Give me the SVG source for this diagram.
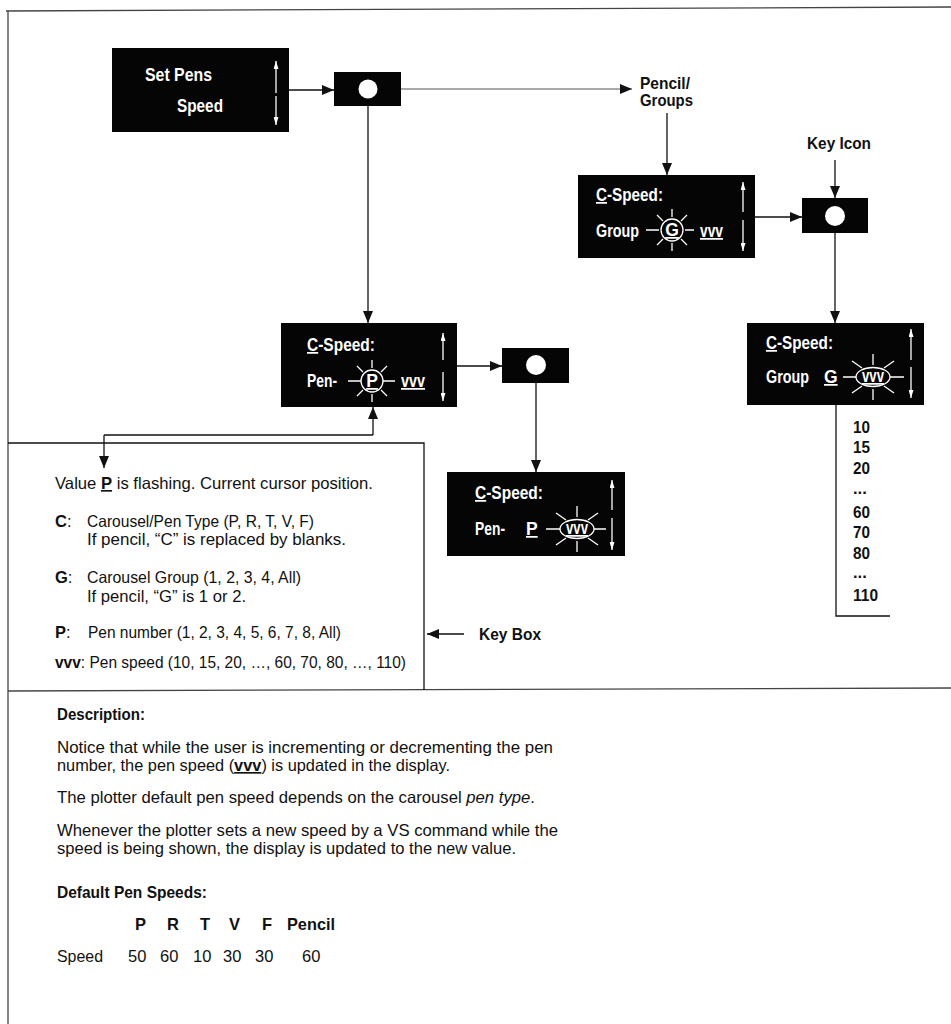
<svg xmlns="http://www.w3.org/2000/svg" width="951" height="1024" viewBox="0 0 951 1024">
<defs>
<style>
.bx{fill:#050505}
.wb{font-family:"Liberation Sans",Arial,sans-serif;font-weight:bold;font-size:17.5px;fill:#fff}
.t{font-family:"Liberation Sans",Arial,sans-serif;font-size:16.5px;fill:#111}
.b{font-weight:bold}
.i{font-style:italic}
.u{text-decoration:underline}
.ln{stroke:#111;stroke-width:1.3;fill:none}
.lt{stroke:#555;stroke-width:1;fill:none}
.fr{stroke:#444;stroke-width:1.3;fill:none}
.wl{stroke:#fff;stroke-width:1.3;fill:none}
.dot{fill:#fff}
</style>
<marker id="ah" viewBox="0 0 12 10" refX="12" refY="5" markerWidth="12" markerHeight="10" markerUnits="userSpaceOnUse" orient="auto"><path d="M0,0L12,5L0,10z" fill="#111"/></marker>
<marker id="wh" viewBox="0 0 8 5" refX="8" refY="2.5" markerWidth="8" markerHeight="5" markerUnits="userSpaceOnUse" orient="auto"><path d="M0,0L8,2.5L0,5z" fill="#fff"/></marker>
<g id="sun" class="wl">
<circle r="11"/>
<path d="M0,-13V-21M0,13V21M9,-9L15,-15M-9,-9L-15,-15M9,9L15,15M-9,9L-15,15"/>
</g>
<g id="esun" class="wl">
<ellipse rx="17" ry="9.5"/>
<path d="M0,-12V-23M0,12V23M11,-9L21,-16M-11,-9L-21,-16M11,9L21,16M-11,9L-21,16"/>
</g>
</defs>

<g id="frame" class="fr">
<path d="M6,11L951,7"/>
<path d="M8,11V1024"/>
<path d="M8,691L951,688"/>
</g>

<g id="connectors">
<path class="ln" d="M289,90H334" marker-end="url(#ah)"/>
<path class="lt" d="M401,89H632" marker-end="url(#ah)"/>
<path class="ln" d="M368,106V323" marker-end="url(#ah)"/>
<path class="ln" d="M667,113V175" marker-end="url(#ah)"/>
<path class="ln" d="M835,160V198" marker-end="url(#ah)"/>
<path class="ln" d="M755,217H802" marker-end="url(#ah)"/>
<path class="ln" d="M835,233V323" marker-end="url(#ah)"/>
<path class="ln" d="M457,366H502" marker-end="url(#ah)"/>
<path class="ln" d="M536,383V472" marker-end="url(#ah)"/>
<path class="ln" d="M104,435H373"/>
<path class="ln" d="M373,435V407" marker-end="url(#ah)"/>
<path class="ln" d="M104,435V468" marker-end="url(#ah)"/>
<path class="ln" d="M836,405V616H890"/>
<path class="ln" d="M464,634H427" marker-end="url(#ah)"/>
</g>

<g id="setpens">
<rect class="bx" x="112" y="48" width="177" height="84"/>
<text class="wb" x="145" y="81" textLength="67" lengthAdjust="spacingAndGlyphs">Set Pens</text>
<text class="wb" x="177" y="112" textLength="46" lengthAdjust="spacingAndGlyphs">Speed</text>
<path class="wl" d="M276,93V61" marker-end="url(#wh)"/>
<path class="wl" d="M276,96V125" marker-end="url(#wh)"/>
</g>

<g id="key1">
<rect class="bx" x="334" y="72" width="67" height="34"/>
<circle class="dot" cx="368" cy="89" r="9.5"/>
</g>

<g id="pencil-groups">
<text class="t b" x="640" y="89" textLength="50" lengthAdjust="spacingAndGlyphs">Pencil/</text>
<text class="t b" x="640" y="106" textLength="53" lengthAdjust="spacingAndGlyphs">Groups</text>
</g>

<g id="keyicon-label">
<text class="t b" x="807" y="149" textLength="64" lengthAdjust="spacingAndGlyphs">Key Icon</text>
</g>

<g id="group-box">
<rect class="bx" x="578" y="175" width="177" height="83"/>
<text class="wb" x="596" y="201" textLength="67" lengthAdjust="spacingAndGlyphs"><tspan class="u">C</tspan>-Speed:</text>
<text class="wb" x="596" y="237" textLength="43" lengthAdjust="spacingAndGlyphs">Group</text>
<path class="wl" d="M646,230H659M685,230H694"/>
<use href="#sun" x="672" y="230"/>
<text class="wb u" x="672" y="236" text-anchor="middle">G</text>
<text class="wb u" x="700" y="237" textLength="23" lengthAdjust="spacingAndGlyphs">vvv</text>
<path class="wl" d="M743,212V182" marker-end="url(#wh)"/>
<path class="wl" d="M743,220V251" marker-end="url(#wh)"/>
</g>

<g id="key3">
<rect class="bx" x="802" y="198" width="66" height="35"/>
<circle class="dot" cx="835" cy="216" r="10"/>
</g>

<g id="group-speed-box">
<rect class="bx" x="747" y="323" width="177" height="82"/>
<text class="wb" x="766" y="349" textLength="67" lengthAdjust="spacingAndGlyphs"><tspan class="u">C</tspan>-Speed:</text>
<text class="wb" x="766" y="383" textLength="43" lengthAdjust="spacingAndGlyphs">Group</text>
<text class="wb u" x="824" y="383">G</text>
<path class="wl" d="M843,377H856M890,377H904"/>
<use href="#esun" x="873" y="377"/>
<text class="wb u" x="862" y="382" font-size="15" textLength="22" lengthAdjust="spacingAndGlyphs">vvv</text>
<path class="wl" d="M911,360V329" marker-end="url(#wh)"/>
<path class="wl" d="M911,367V398" marker-end="url(#wh)"/>
</g>

<g id="speed-list">
<text class="t b" x="853" y="433" font-size="17.5" textLength="17" lengthAdjust="spacingAndGlyphs">10</text>
<text class="t b" x="853" y="453" font-size="17.5" textLength="17" lengthAdjust="spacingAndGlyphs">15</text>
<text class="t b" x="853" y="474" font-size="17.5" textLength="17" lengthAdjust="spacingAndGlyphs">20</text>
<text class="t b" x="853" y="494">...</text>
<text class="t b" x="853" y="518" font-size="17.5" textLength="17" lengthAdjust="spacingAndGlyphs">60</text>
<text class="t b" x="853" y="538" font-size="17.5" textLength="17" lengthAdjust="spacingAndGlyphs">70</text>
<text class="t b" x="853" y="559" font-size="17.5" textLength="17" lengthAdjust="spacingAndGlyphs">80</text>
<text class="t b" x="853" y="578">...</text>
<text class="t b" x="853" y="601" font-size="17.5" textLength="25" lengthAdjust="spacingAndGlyphs">110</text>
</g>

<g id="pen-box">
<rect class="bx" x="281" y="323" width="176" height="84"/>
<text class="wb" x="307" y="351" textLength="68" lengthAdjust="spacingAndGlyphs"><tspan class="u">C</tspan>-Speed:</text>
<text class="wb" x="307" y="387" textLength="30" lengthAdjust="spacingAndGlyphs">Pen-</text>
<path class="wl" d="M348,381H361M383,381H395"/>
<use href="#sun" x="372" y="381"/>
<text class="wb u" x="372" y="387" text-anchor="middle">P</text>
<text class="wb u" x="401" y="387" textLength="24" lengthAdjust="spacingAndGlyphs">vvv</text>
<path class="wl" d="M443,360V333" marker-end="url(#wh)"/>
<path class="wl" d="M443,372V401" marker-end="url(#wh)"/>
</g>

<g id="key2">
<rect class="bx" x="502" y="348" width="67" height="35"/>
<circle class="dot" cx="536" cy="365" r="10"/>
</g>

<g id="pen-speed-box">
<rect class="bx" x="447" y="472" width="178" height="84"/>
<text class="wb" x="475" y="499" textLength="68" lengthAdjust="spacingAndGlyphs"><tspan class="u">C</tspan>-Speed:</text>
<text class="wb" x="475" y="535" textLength="30" lengthAdjust="spacingAndGlyphs">Pen-</text>
<text class="wb u" x="526" y="535">P</text>
<path class="wl" d="M546,529H560M594,529H606"/>
<use href="#esun" x="577" y="529"/>
<text class="wb u" x="566" y="534" font-size="15" textLength="22" lengthAdjust="spacingAndGlyphs">vvv</text>
<path class="wl" d="M612,510V480" marker-end="url(#wh)"/>
<path class="wl" d="M612,518V550" marker-end="url(#wh)"/>
</g>

<g id="key-box">
<path class="ln" d="M8,443H424V690"/>
<text class="t" x="55" y="489" textLength="318" lengthAdjust="spacingAndGlyphs">Value <tspan class="b u">P</tspan> is flashing. Current cursor position.</text>
<text class="t b" x="55" y="527">C<tspan font-weight="normal">:</tspan></text>
<text class="t" x="87" y="527" textLength="227" lengthAdjust="spacingAndGlyphs">Carousel/Pen Type (P, R, T, V, F)</text>
<text class="t" x="87" y="545" textLength="259" lengthAdjust="spacingAndGlyphs">If pencil, “C” is replaced by blanks.</text>
<text class="t b" x="55" y="583">G<tspan font-weight="normal">:</tspan></text>
<text class="t" x="87" y="583" textLength="214" lengthAdjust="spacingAndGlyphs">Carousel Group (1, 2, 3, 4, All)</text>
<text class="t" x="87" y="602" textLength="159" lengthAdjust="spacingAndGlyphs">If pencil, “G” is 1 or 2.</text>
<text class="t b" x="55" y="638">P<tspan font-weight="normal">:</tspan></text>
<text class="t" x="88" y="638" textLength="253" lengthAdjust="spacingAndGlyphs">Pen number (1, 2, 3, 4, 5, 6, 7, 8, All)</text>
<text class="t" x="55" y="668" textLength="351" lengthAdjust="spacingAndGlyphs"><tspan class="b">vvv</tspan>: Pen speed (10, 15, 20, …, 60, 70, 80, …, 110)</text>
</g>

<g id="keybox-label">
<text class="t b" x="479" y="640" font-size="17.5" textLength="62" lengthAdjust="spacingAndGlyphs">Key Box</text>
</g>

<g id="description">
<text class="t b" x="57" y="720" textLength="88" lengthAdjust="spacingAndGlyphs">Description:</text>
<text class="t" x="57" y="753" textLength="496" lengthAdjust="spacingAndGlyphs">Notice that while the user is incrementing or decrementing the pen</text>
<text class="t" x="57" y="771" textLength="393" lengthAdjust="spacingAndGlyphs">number, the pen speed (<tspan class="b u">vvv</tspan>) is updated in the display.</text>
<text class="t" x="57" y="803" textLength="478" lengthAdjust="spacingAndGlyphs">The plotter default pen speed depends on the carousel <tspan class="i">pen type</tspan>.</text>
<text class="t" x="57" y="836" textLength="501" lengthAdjust="spacingAndGlyphs">Whenever the plotter sets a new speed by a VS command while the</text>
<text class="t" x="57" y="854" textLength="459" lengthAdjust="spacingAndGlyphs">speed is being shown, the display is updated to the new value.</text>
<text class="t b" x="57" y="898" textLength="150" lengthAdjust="spacingAndGlyphs">Default Pen Speeds:</text>
<text class="t b" x="135" y="930">P</text>
<text class="t b" x="167" y="930">R</text>
<text class="t b" x="200" y="930">T</text>
<text class="t b" x="229" y="930">V</text>
<text class="t b" x="262" y="930">F</text>
<text class="t b" x="287" y="930" textLength="48" lengthAdjust="spacingAndGlyphs">Pencil</text>
<text class="t" x="57" y="962" textLength="46" lengthAdjust="spacingAndGlyphs">Speed</text>
<text class="t" x="128" y="962">50</text>
<text class="t" x="160" y="962">60</text>
<text class="t" x="193" y="962">10</text>
<text class="t" x="223" y="962">30</text>
<text class="t" x="255" y="962">30</text>
<text class="t" x="302" y="962">60</text>
</g>
</svg>
